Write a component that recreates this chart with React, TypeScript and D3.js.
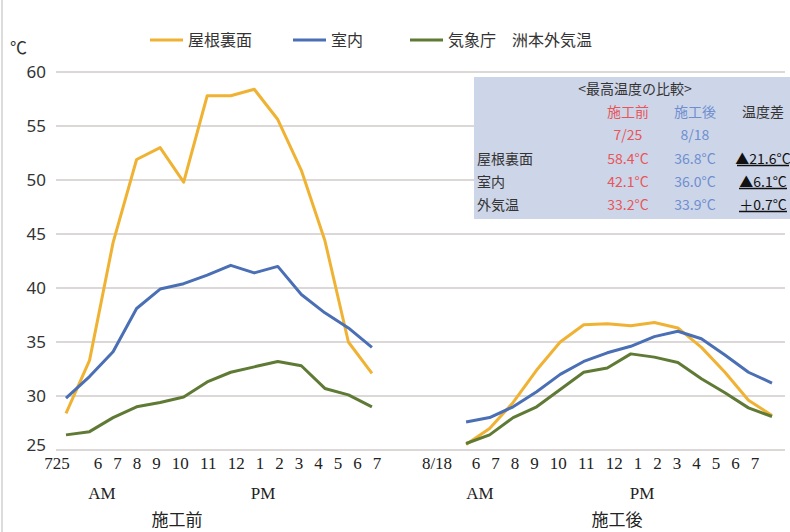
import React from "react";
import * as d3 from "d3";

const yTicks = [25, 30, 35, 40, 45, 50, 55, 60];
const beforeStartLabel = "725";
const afterStartLabel = "8/18";
const hourLabels = ["6", "7", "8", "9", "10", "11", "12", "1", "2", "3", "4", "5", "6", "7"];

const roofBefore = [28.4, 33.3, 44.2, 51.9, 53.0, 49.8, 57.8, 57.8, 58.4, 55.6, 50.9, 44.4, 35.0, 32.1];
const roomBefore = [29.8, 31.8, 34.1, 38.1, 39.9, 40.4, 41.2, 42.1, 41.4, 42.0, 39.4, 37.7, 36.3, 34.5];
const outBefore = [26.4, 26.7, 28.0, 29.0, 29.4, 29.9, 31.3, 32.2, 32.7, 33.2, 32.8, 30.7, 30.1, 29.0];

const roofAfter = [25.5, 27.0, 29.4, 32.4, 35.0, 36.6, 36.7, 36.5, 36.8, 36.3, 34.5, 32.2, 29.6, 28.2];
const roomAfter = [27.6, 28.0, 29.0, 30.4, 32.0, 33.2, 34.0, 34.6, 35.5, 36.0, 35.3, 33.8, 32.2, 31.2];
const outAfter = [25.6, 26.4, 28.0, 29.0, 30.6, 32.2, 32.6, 33.9, 33.6, 33.1, 31.6, 30.3, 28.9, 28.1];

const seriesNames = ["屋根裏面", "室内", "気象庁　洲本外気温"];
const seriesColors = ["#f0b233", "#4a6fb5", "#5f7a35"];

const tableTitle = "<最高温度の比較>";
const tableHeaders = ["施工前", "施工後", "温度差"];
const tableDates = ["7/25", "8/18"];
const tableRows = ["屋根裏面", "室内", "外気温"];
const maxBefore = [58.4, 42.1, 33.2];
const maxAfter = [36.8, 36.0, 33.9];

const W = 790;
const H = 532;
const AFTER_OFFSET = 17;

const JP = "'Noto Sans CJK JP', 'Noto Sans', sans-serif";
const SERIF = "'Liberation Serif', 'DejaVu Serif', serif";

function layoutLabels(labels: string[], startCenter: number, charW = 8.5, gap = 11) {
  const out: { t: string; x: number }[] = [];
  let x = startCenter;
  labels.forEach((t, i) => {
    if (i > 0) {
      const prev = labels[i - 1];
      x += (prev.length * charW) / 2 + gap + (t.length * charW) / 2;
    }
    out.push({ t, x });
  });
  return out;
}

export default function App() {
  const x = d3.scaleLinear().domain([0, 30]).range([66, 772]);
  const y = d3.scaleLinear().domain([25, 60]).range([450, 72]);

  const lineBefore = d3
    .line<number>()
    .x((_, i) => x(i))
    .y((d) => y(d));
  const lineAfter = d3
    .line<number>()
    .x((_, i) => x(i + AFTER_OFFSET))
    .y((d) => y(d));

  const before = [roofBefore, roomBefore, outBefore];
  const after = [roofAfter, roomAfter, outAfter];

  const legendX = [150, 293, 410];

  const colX = [628, 695, 763];
  const rowY = [159, 182, 205];

  const leftHours = layoutLabels(hourLabels, 98);
  const rightHours = layoutLabels(hourLabels, 476);

  return (
    <svg
      width={W}
      height={H}
      style={{ position: "absolute", left: 0, top: 0, background: "#fff" }}
    >
      <rect x={0} y={0} width={W} height={H} fill="#fff" />
      <line x1={2} x2={2} y1={0} y2={H} stroke="#d0d0d0" strokeWidth={1.5} />

      {/* legend */}
      {seriesNames.map((n, i) => (
        <g key={n}>
          <line
            x1={legendX[i]}
            x2={legendX[i] + 33}
            y1={40}
            y2={40}
            stroke={seriesColors[i]}
            strokeWidth={3}
          />
          <text
            x={legendX[i] + 38}
            y={40}
            dy="0.35em"
            fontFamily={JP}
            fontSize={16}
            fill="#333"
          >
            {n}
          </text>
        </g>
      ))}

      <text x={10} y={54} fontFamily={JP} fontSize={17} fill="#333">
        ℃
      </text>

      {/* grid + y labels */}
      {yTicks.map((t) => (
        <g key={t}>
          <line x1={56} x2={785} y1={y(t)} y2={y(t)} stroke="#dcd8d8" strokeWidth={2} />
          <text
            x={46}
            y={t === 25 ? y(t) - 5 : y(t)}
            dy="0.35em"
            textAnchor="end"
            fontFamily="'Noto Sans', 'DejaVu Sans', sans-serif"
            fontSize={17}
            fill="#333"
          >
            {t}
          </text>
        </g>
      ))}

      {/* lines */}
      {before.map((s, i) => (
        <path
          key={"b" + i}
          d={lineBefore(s) || ""}
          fill="none"
          stroke={seriesColors[i]}
          strokeWidth={3}
          strokeLinejoin="round"
        />
      ))}
      {after.map((s, i) => (
        <path
          key={"a" + i}
          d={lineAfter(s) || ""}
          fill="none"
          stroke={seriesColors[i]}
          strokeWidth={3}
          strokeLinejoin="round"
        />
      ))}

      {/* table */}
      <g>
        <rect x={474} y={77} width={316} height={142} fill="#cdd5e8" />
        <text x={635} y={89} dy="0.35em" textAnchor="middle" fontFamily={JP} fontSize={14} fill="#333">
          {tableTitle}
        </text>
        {tableHeaders.map((h, i) => (
          <text
            key={h}
            x={colX[i]}
            y={112}
            dy="0.35em"
            textAnchor="middle"
            fontFamily={JP}
            fontSize={14}
            fill={i === 0 ? "#e8555a" : i === 1 ? "#6d8fd0" : "#333"}
          >
            {h}
          </text>
        ))}
        {tableDates.map((d, i) => (
          <text
            key={d}
            x={colX[i]}
            y={135}
            dy="0.35em"
            textAnchor="middle"
            fontFamily={JP}
            fontSize={14}
            fill={i === 0 ? "#e8555a" : "#6d8fd0"}
          >
            {d}
          </text>
        ))}
        {tableRows.map((r, i) => {
          const diff = maxBefore[i] - maxAfter[i];
          const diffText = (diff >= 0 ? "▲" : "＋") + Math.abs(diff).toFixed(1) + "°C";
          return (
            <g key={r}>
              <text x={477} y={rowY[i]} dy="0.35em" fontFamily={JP} fontSize={14} fill="#333">
                {r}
              </text>
              <text
                x={colX[0]}
                y={rowY[i]}
                dy="0.35em"
                textAnchor="middle"
                fontFamily={JP}
                fontSize={14}
                fill="#e8555a"
              >
                {maxBefore[i].toFixed(1) + "°C"}
              </text>
              <text
                x={colX[1]}
                y={rowY[i]}
                dy="0.35em"
                textAnchor="middle"
                fontFamily={JP}
                fontSize={14}
                fill="#6d8fd0"
              >
                {maxAfter[i].toFixed(1) + "°C"}
              </text>
              <text
                x={colX[2]}
                y={rowY[i]}
                dy="0.35em"
                textAnchor="middle"
                fontFamily={JP}
                fontSize={14}
                fill="#111"
              >
                {diffText}
              </text>
              <line
                x1={colX[2] - (i === 0 ? 26 : 24)}
                x2={colX[2] + (i === 0 ? 26 : 24)}
                y1={rowY[i] + 6.5}
                y2={rowY[i] + 6.5}
                stroke="#111"
                strokeWidth={1.3}
              />
            </g>
          );
        })}
      </g>

      {/* x labels */}
      <g fontFamily={SERIF} fontSize={17} fill="#222" textAnchor="middle">
        <text x={57} y={469}>{beforeStartLabel}</text>
        {leftHours.map((l, i) => (
          <text key={"l" + i} x={l.x} y={469}>
            {l.t}
          </text>
        ))}
        <text x={437} y={469}>{afterStartLabel}</text>
        {rightHours.map((l, i) => (
          <text key={"r" + i} x={l.x} y={469}>
            {l.t}
          </text>
        ))}
        <text x={102} y={499}>AM</text>
        <text x={263} y={499}>PM</text>
        <text x={480} y={499}>AM</text>
        <text x={642} y={499}>PM</text>
      </g>
      <text x={177} y={526} textAnchor="middle" fontFamily={JP} fontSize={17} fill="#222">
        施工前
      </text>
      <text x={617} y={526} textAnchor="middle" fontFamily={JP} fontSize={17} fill="#222">
        施工後
      </text>
    </svg>
  );
}
